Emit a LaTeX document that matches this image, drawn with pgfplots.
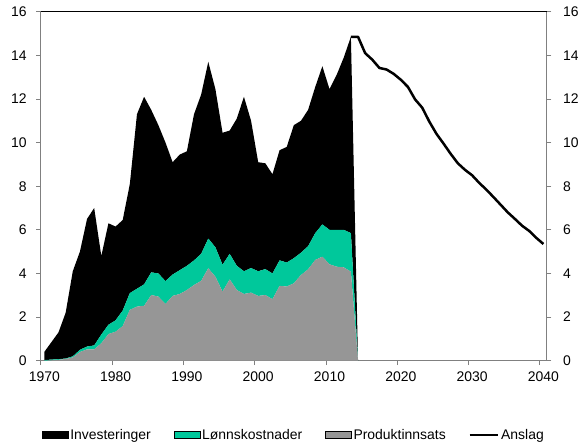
\documentclass[border=0pt]{standalone}
\usepackage{fontspec}
\setmainfont{Liberation Sans}
\usepackage{pgfplots}
\pgfplotsset{compat=1.18}
\usepackage{pgfplotstable}
\definecolor{lonn}{RGB}{0,200,155}
\definecolor{prod}{RGB}{150,150,150}
\definecolor{axgray}{RGB}{128,128,128}
\pgfplotsset{
  swatch/.style={legend image code/.code={\fill[##1] (0bp,-3.5bp) rectangle (26bp,3.5bp);}},
  lineswatch/.style={legend image code/.code={\draw[##1] (0bp,0bp) -- (28bp,0bp);}},
}
\pgfplotstableread{
year P L I
1970 0.00 0.03 0.37
1971 0.02 0.03 0.80
1972 0.04 0.03 1.23
1973 0.08 0.02 2.10
1974 0.15 0.05 3.90
1975 0.40 0.10 4.50
1976 0.52 0.13 5.85
1977 0.52 0.18 6.30
1978 0.80 0.40 3.60
1979 1.22 0.43 4.65
1980 1.33 0.52 4.30
1981 1.59 0.71 4.15
1982 2.33 0.77 5.00
1983 2.48 0.82 8.00
1984 2.52 0.98 8.60
1985 3.01 1.04 7.45
1986 2.94 1.06 6.80
1987 2.60 1.05 6.35
1988 2.97 0.98 5.15
1989 3.06 1.09 5.30
1990 3.24 1.11 5.25
1991 3.47 1.13 6.70
1992 3.66 1.24 7.30
1993 4.24 1.36 8.10
1994 3.85 1.35 7.25
1995 3.17 1.23 6.05
1996 3.73 1.17 5.65
1997 3.24 1.11 6.75
1998 3.06 1.04 8.00
1999 3.12 1.13 6.75
2000 2.97 1.13 5.00
2001 3.01 1.19 4.85
2002 2.82 1.18 4.55
2003 3.43 1.17 5.05
2004 3.40 1.10 5.30
2005 3.55 1.15 6.10
2006 3.93 1.02 6.05
2007 4.19 1.06 6.25
2008 4.62 1.23 6.70
2009 4.77 1.48 7.25
2010 4.42 1.58 6.45
2011 4.31 1.69 7.10
2012 4.28 1.72 7.90
2013 4.08 1.77 9.00
2014 0.00 0.00 0.00
}\hist
\pgfplotstableread{
year A
2013 14.85
2014 14.85
2015 14.10
2016 13.80
2017 13.42
2018 13.35
2019 13.15
2020 12.88
2021 12.55
2022 11.98
2023 11.60
2024 10.96
2025 10.40
2026 9.95
2027 9.48
2028 9.05
2029 8.75
2030 8.50
2031 8.15
2032 7.84
2033 7.50
2034 7.15
2035 6.80
2036 6.50
2037 6.19
2038 5.95
2039 5.63
2040 5.35
}\anslag
\begin{document}
\begin{tikzpicture}
\useasboundingbox (-40.7bp,-84.3bp) rectangle (537.3bp,360.7bp);
\begin{axis}[
  at={(0,0)}, anchor=south west,
  width=506.3bp, height=349bp, scale only axis,
  xmin=1969.5, xmax=2040.5, ymin=0, ymax=16,
  axis x line*=bottom, axis y line*=left,
  x axis line style={axgray, line width=0.8bp, -},
  y axis line style={axgray, line width=1.3bp, -},
  xtick={1969.5,1979.5,1989.5,1999.5,2009.5,2019.5,2029.5,2039.5},
  xticklabels={1970,1980,1990,2000,2010,2020,2030,2040},
  xticklabel style={xshift=3.57bp, yshift=-3bp},
  yticklabel style={xshift=-6bp},
  ytick={0,2,...,16},
  tick align=outside, major tick length=4.5bp,
  tick style={axgray, line width=0.8bp},
  tick label style={font=\fontsize{14}{16}\selectfont},
  /pgf/number format/assume math mode=true,
  stack plots=y,
  legend columns=4,
  legend cell align=left,
  legend style={at={(0.5,-0.213)}, anchor=center, draw=none, fill=none,
    font=\fontsize{14}{16}\selectfont, inner sep=0pt,
    nodes={inner xsep=2.2bp},
    /tikz/every even column/.append style={column sep=20.5bp}},
]
\addplot[fill=prod, draw=none, forget plot] table[x=year,y=P]{\hist} \closedcycle;
\addplot[fill=lonn, draw=none, forget plot] table[x=year,y=L]{\hist} \closedcycle;
\addplot[fill=black, draw=none, forget plot] table[x=year,y=I]{\hist} \closedcycle;
\addplot[black, line width=2.5bp, line join=round, stack plots=false, forget plot] table[x=year,y=A]{\anslag};
\addlegendimage{swatch, fill=black}
\addlegendentry{Investeringer}
\addlegendimage{swatch, fill=lonn}
\addlegendentry{Lønnskostnader}
\addlegendimage{swatch, fill=prod}
\addlegendentry{Produktinnsats}
\addlegendimage{lineswatch, black, line width=2.5bp}
\addlegendentry{Anslag}
\end{axis}
\begin{axis}[
  at={(0,0)}, anchor=south west,
  width=506.3bp, height=349bp, scale only axis,
  xmin=1969.5, xmax=2040.5, ymin=0, ymax=16,
  axis x line*=top, axis y line*=right,
  x axis line style={black, line width=0.8bp, -},
  y axis line style={axgray, line width=1bp, -},
  xtick=\empty,
  ytick={0,2,...,16},
  yticklabel style={xshift=8bp},
  tick align=outside, major tick length=4.5bp,
  tick style={axgray, line width=0.8bp},
  tick label style={font=\fontsize{14}{16}\selectfont},
  /pgf/number format/assume math mode=true,
]
\end{axis}
\end{tikzpicture}
\end{document}
